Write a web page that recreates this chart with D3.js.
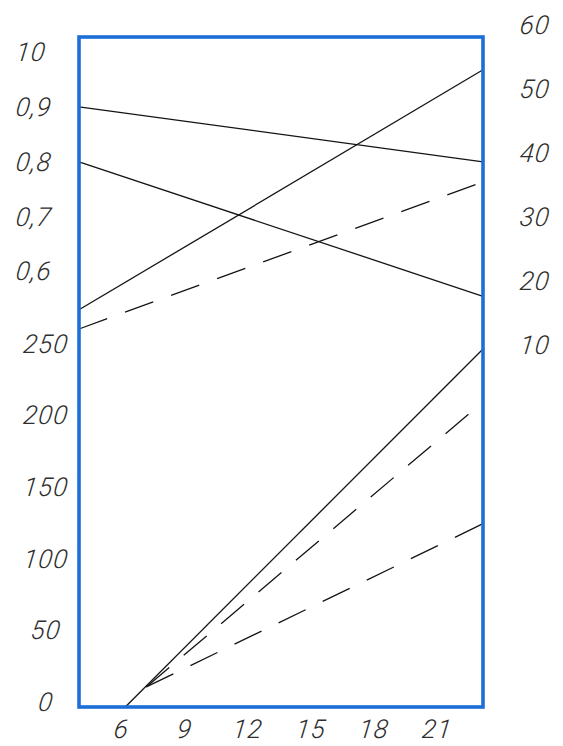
<!DOCTYPE html>
<html>
<head>
<meta charset="utf-8">
<script src="https://cdn.jsdelivr.net/npm/d3@7"></script>
<style>
  html, body { margin: 0; padding: 0; background: #ffffff; }
  svg { display: block; }
</style>
</head>
<body>
<svg id="chart" width="563" height="746"></svg>
<script>
// ---------- data ----------
const xTicks = [6, 9, 12, 15, 18, 21];
const upperLeftTicks = [1.0, 0.9, 0.8, 0.7, 0.6];
const upperLeftLabels = ["10", "0,9", "0,8", "0,7", "0,6"];
const lowerLeftTicks = [0, 50, 100, 150, 200, 250];
const rightTicks = [10, 20, 30, 40, 50, 60];

// upper group (span whole frame)
const upperX = [3.8, 23];
const lineA = [0.9, 0.8];      // left upper scale, solid
const lineB = [0.8, 0.555];    // left upper scale, solid
const lineC = [15.5, 53];      // right scale, solid
const lineD = [12.5, 35.5];    // right scale, dashed

// lower group
const lowerSolidX = [6, 23];
const lowerSolid = [0, 250];
const lowerDashX = [7, 23];
const lowerDash1 = [14, 213];
const lowerDash2 = [14, 128];

// ---------- layout ----------
const svg = d3.select("#chart");
const frame = { left: 79, right: 483, top: 37, bottom: 707 };

const x = d3.scaleLinear().domain([3.8, 23]).range([frame.left, frame.right]);
const yUL = d3.scaleLinear().domain([0.5, 1.0]).range([326.5, 52]);
const yR = d3.scaleLinear().domain([10, 60]).range([345, 25]);
const yLow = d3.scaleLinear().domain([0, 250]).range([frame.bottom, 349]);

const zip = (xs, ys) => xs.map((v, i) => [v, ys[i]]);

function drawLine(xs, ys, yScale, dashed) {
  const gen = d3.line().x(d => x(d[0])).y(d => yScale(d[1]));
  svg.append("path")
    .attr("d", gen(zip(xs, ys)))
    .attr("fill", "none")
    .attr("stroke", "#141414")
    .attr("stroke-width", 1.3)
    .attr("stroke-dasharray", dashed ? "30,19" : null);
}

drawLine(upperX, lineA, yUL, false);
drawLine(upperX, lineB, yUL, false);
drawLine(upperX, lineC, yR, false);
drawLine(upperX, lineD, yR, true);
drawLine(lowerSolidX, lowerSolid, yLow, false);
drawLine(lowerDashX, lowerDash1, yLow, true);
drawLine(lowerDashX, lowerDash2, yLow, true);

// frame
svg.append("rect")
  .attr("x", frame.left).attr("y", frame.top)
  .attr("width", frame.right - frame.left)
  .attr("height", frame.bottom - frame.top)
  .attr("fill", "none")
  .attr("stroke", "#1d6fd8")
  .attr("stroke-width", 3.6);

// ---------- axes (labels only) ----------
function styleAxis(g) {
  g.select(".domain").remove();
  g.selectAll(".tick line").remove();
  g.attr("font-family", "Roboto, 'DejaVu Sans', sans-serif")
   .attr("font-size", 26)
   .attr("font-style", "italic")
   .attr("font-weight", 300);
  g.selectAll("text")
   .attr("fill", "#2e2e2e")
   .attr("letter-spacing", 1)
   .attr("transform", "skewX(-7)");
}

svg.append("g")
  .attr("transform", "translate(16,0)")
  .call(d3.axisLeft(yUL).tickValues(upperLeftTicks)
        .tickFormat((d, i) => upperLeftLabels[i]).tickSize(0).tickPadding(0))
  .call(styleAxis)
  .call(g => g.selectAll("text").attr("text-anchor", "start").attr("x", 0));

svg.append("g")
  .attr("transform", "translate(46,-5)")
  .call(d3.axisLeft(yLow).tickValues(lowerLeftTicks).tickSize(0).tickPadding(0))
  .call(styleAxis)
  .call(g => g.selectAll("text").attr("text-anchor", "middle").attr("x", 0));

svg.append("g")
  .attr("transform", "translate(520,0)")
  .call(d3.axisRight(yR).tickValues(rightTicks).tickSize(0).tickPadding(0))
  .call(styleAxis)
  .call(g => g.selectAll("text").attr("text-anchor", "start").attr("x", 0));

svg.append("g")
  .attr("transform", "translate(-3,720)")
  .call(d3.axisBottom(x).tickValues(xTicks).tickSize(0).tickPadding(0))
  .call(styleAxis);
</script>
</body>
</html>
